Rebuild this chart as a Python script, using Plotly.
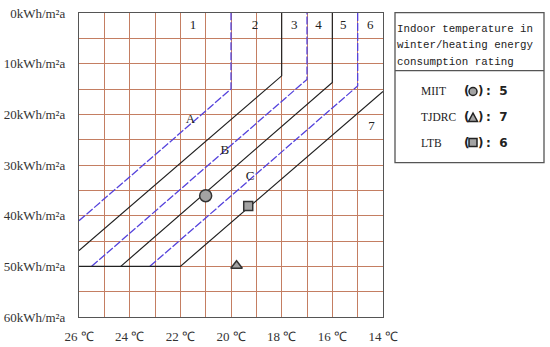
import plotly.graph_objects as go

W, H = 550, 347

# ---- data ----
x_ticks = [26, 25, 24, 23, 22, 21, 20, 19, 18, 17, 16, 15, 14]
x_ticktext = ["26 ℃", "", "24 ℃", "", "22 ℃", "", "20 ℃", "", "18 ℃", "", "16 ℃", "", "14 ℃"]
y_ticks = [0, 5, 10, 15, 20, 25, 30, 35, 40, 45, 50, 55, 60]
y_ticktext = ["0kWh/m²a", "", "10kWh/m²a", "", "20kWh/m²a", "", "30kWh/m²a", "",
              "40kWh/m²a", "", "50kWh/m²a", "", "60kWh/m²a"]

# rating boundary lines (temperature, energy)
blue_A_t = [26, 20, 20]
blue_A_e = [41.0, 15.0, 0]
black1_t = [26, 18, 18]
black1_e = [46.9, 12.4, 0]
blue2_t = [25.5, 17, 17]
blue2_e = [50, 13.1, 0]
black2_t = [24.35, 16, 16]
black2_e = [50, 13.7, 0]
blue3_t = [23.2, 15, 15]
blue3_e = [50, 14.4, 0]
black3_t = [26, 22, 14]
black3_e = [50, 50, 15.5]

# region labels
zone_labels = ["1", "2", "3", "4", "5", "6", "7", "A", "B", "C"]
zone_t = [21.5, 19.05, 17.5, 16.55, 15.57, 14.5, 14.45, 21.6, 20.24, 19.25]
zone_e = [2.6, 2.6, 2.6, 2.6, 2.6, 2.6, 22.4, 21.0, 27.2, 32.4]

# buildings
bld_names = ["MIIT", "TJDRC", "LTB"]
bld_t = [21.0, 19.78, 19.32]
bld_e = [36.05, 49.9, 38.1]
bld_rating = [5, 7, 6]
bld_symbols = ["circle", "triangle-up", "square"]
bld_sizes = [12, 10, 9]

# ---- layout helpers (pixel -> paper) ----
def px(x):
    return x / W

def py(y):
    return (H - y) / H

X0, X1, Y0, Y1 = 79, 383, 13, 317

GRID = "#c47e62"
FRAME = "#555555"
BLUE = "#5543dc"
BLACK = "#222222"
SERIF = "Liberation Serif"
MONO = "Liberation Mono"

fig = go.Figure()

for t, e in [(blue_A_t, blue_A_e), (blue2_t, blue2_e), (blue3_t, blue3_e)]:
    fig.add_trace(go.Scatter(x=t, y=e, mode="lines",
                             line=dict(color=BLUE, width=1.3, dash="8px,2px")))
for t, e in [(black1_t, black1_e), (black2_t, black2_e), (black3_t, black3_e)]:
    fig.add_trace(go.Scatter(x=t, y=e, mode="lines",
                             line=dict(color=BLACK, width=1.2)))

fig.add_trace(go.Scatter(x=zone_t, y=zone_e, mode="text", text=zone_labels,
                         textfont=dict(family=SERIF, size=13, color="#222")))

for i in range(len(bld_names)):
    fig.add_trace(go.Scatter(x=[bld_t[i]], y=[bld_e[i]], mode="markers",
                             marker=dict(symbol=bld_symbols[i], size=bld_sizes[i],
                                         color="#a3a3a3",
                                         line=dict(color="#333", width=1.5))))

fig.update_layout(
    width=W, height=H, showlegend=False,
    margin=dict(l=0, r=0, t=0, b=0, autoexpand=False),
    paper_bgcolor="white", plot_bgcolor="white",
    xaxis=dict(domain=[px(X0), px(X1)], range=[26, 14], tickvals=x_ticks,
               ticktext=x_ticktext, showgrid=True, gridcolor=GRID, gridwidth=1,
               zeroline=False, showline=True, mirror=True, linecolor=FRAME,
               linewidth=1.2, ticks="outside", ticklen=7, automargin=False,
               tickcolor="rgba(0,0,0,0)",
               tickfont=dict(family=SERIF, size=13, color="#333")),
    yaxis=dict(domain=[py(Y1), py(Y0)], range=[60, 0], tickvals=y_ticks,
               ticktext=y_ticktext, showgrid=True, gridcolor=GRID, gridwidth=1,
               zeroline=False, showline=True, mirror=True, linecolor=FRAME,
               linewidth=1.2, ticks="outside", ticklen=10, automargin=False,
               tickcolor="rgba(0,0,0,0)",
               tickfont=dict(family=SERIF, size=13, color="#333")),
)

# legend box
LX0, LX1, LY0, LY1, LYD = 395, 544, 12.7, 162.7, 70.7
fig.add_shape(type="rect", xref="paper", yref="paper",
              x0=px(LX0), x1=px(LX1), y0=py(LY1), y1=py(LY0),
              line=dict(color=FRAME, width=1.3), fillcolor="rgba(0,0,0,0)")
fig.add_shape(type="line", xref="paper", yref="paper",
              x0=px(LX0), x1=px(LX1), y0=py(LYD), y1=py(LYD),
              line=dict(color=FRAME, width=1.3))

header = ["Indoor temperature in", "winter/heating energy", "consumption rating"]
for i, line in enumerate(header):
    fig.add_annotation(xref="paper", yref="paper", x=px(395), y=py(29 + 16.5 * i),
                       text=line, showarrow=False, xanchor="left", yanchor="middle",
                       font=dict(family=MONO, size=10.8, color="#222"))

row_y = [91.5, 117.5, 142.5]
for i in range(len(bld_names)):
    yy = row_y[i]
    fig.add_annotation(xref="paper", yref="paper", x=px(419), y=py(yy),
                       text=bld_names[i], showarrow=False, xanchor="left",
                       yanchor="middle", font=dict(family=SERIF, size=11.5, color="#222"))
    fig.add_annotation(xref="paper", yref="paper", x=px(466), y=py(yy),
                       text="<b>(</b>", showarrow=False, xanchor="center",
                       yanchor="middle", font=dict(family="DejaVu Sans", size=12, color="#222"))
    fig.add_annotation(xref="paper", yref="paper", x=px(480), y=py(yy),
                       text="<b>)</b>", showarrow=False, xanchor="center",
                       yanchor="middle", font=dict(family="DejaVu Sans", size=12, color="#222"))
    fig.add_annotation(xref="paper", yref="paper", x=px(484), y=py(yy),
                       text="<b>:  %d</b>" % bld_rating[i], showarrow=False,
                       xanchor="left", yanchor="middle",
                       font=dict(family="DejaVu Sans", size=12, color="#222"))
    cx, r = 473, 4
    if bld_symbols[i] == "circle":
        fig.add_shape(type="circle", xref="paper", yref="paper",
                      x0=px(cx - r), x1=px(cx + r), y0=py(yy + r), y1=py(yy - r),
                      line=dict(color="#222", width=1.5), fillcolor="#a3a3a3")
    elif bld_symbols[i] == "square":
        fig.add_shape(type="rect", xref="paper", yref="paper",
                      x0=px(cx - r), x1=px(cx + r), y0=py(yy + r), y1=py(yy - r),
                      line=dict(color="#222", width=1.5), fillcolor="#a3a3a3")
    else:
        path = "M %f %f L %f %f L %f %f Z" % (px(cx - 4.5), py(yy + 4), px(cx + 4.5),
                                              py(yy + 4), px(cx), py(yy - 4.5))
        fig.add_shape(type="path", xref="paper", yref="paper", path=path,
                      line=dict(color="#222", width=1.5), fillcolor="#a3a3a3")

fig.write_html("out.html", config={"displayModeBar": False},
               post_script="document.body.style.margin='0';document.body.style.padding='0';")
